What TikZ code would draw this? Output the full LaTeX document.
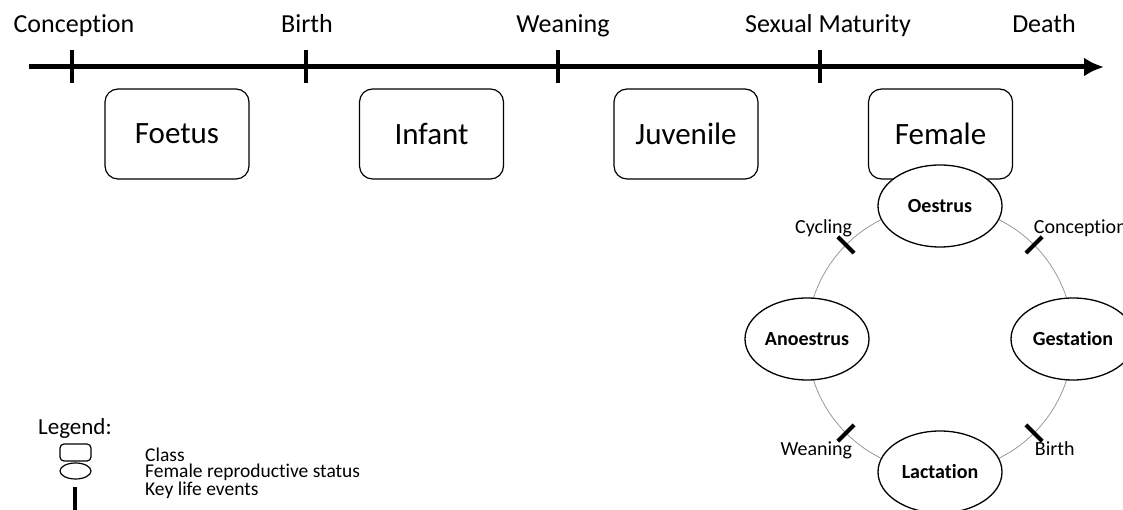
\documentclass[tikz,border=0pt]{standalone}
\usepackage{fontspec}
\setmainfont{Carlito}[Ligatures=NoCommon]
\usetikzlibrary{calc,arrows.meta,shapes.geometric}
\tikzset{%
  >=latex, % arrows
  x=1pt,y=1pt,%
  inner sep=0pt,%
  class/.style={draw,rounded corners=13pt,minimum width=144pt,
    minimum height=90pt,line width=1.2pt,font=\fontsize{31}{37}\selectfont},%
  status/.style={draw,ellipse,fill=white,minimum width=124pt,
    minimum height=82pt,line width=1.3pt,font=\bfseries\fontsize{20}{24}\selectfont},%
  life event/.style={line width=4pt},%
  event label/.style={anchor=base,font=\fontsize{26}{31}\selectfont},%
  cycle label/.style={font=\fontsize{20}{24}\selectfont},%
  key label/.style={anchor=west,font=\fontsize{19.5}{23}\selectfont}%
}

\begin{document}
\begin{tikzpicture} % LIFE CYCLE

\clip (0,0) rectangle (1123,510);
\def\R{133}

% time line
\coordinate (start) at (29,443);
\coordinate (end) at (1104,443);
\draw[line width=5pt,-{Latex[length=20pt,width=19pt]}] (start) -- (end);
\foreach \x/\n in {72/conc,306/birth,558/wean,820/mat}{
  \coordinate (\n) at (\x,443);
  \draw[life event] ($(\n)+(0,16.5)$) -- ($(\n)+(0,-16.5)$);
}
\node[event label] (lconc) at (74,477) {Conception};
\node[event label] (lbirth) at (307,477) {Birth};
\node[event label] (lwean) at (563,477) {Weaning};
\node[event label] (lmat) at (828,477) {Sexual Maturity};
\node[event label] (ldeath) at (1044,477) {Death};

% classes
\node[class] (foetus) at (177,376) {Foetus};
\node[class] (infant) at (431.5,376) {Infant};
\node[class] (juvenile) at (686,376) {Juvenile};
\node[class] (female) at (940.5,376) {Female};

% reproductive cycle
\coordinate (C) at (940,171);
\draw[gray!80,line width=0.8pt] (C) circle (\R);
\foreach \a in {45,135,225,315}{
  \draw[life event] ($(C)+(\a:{\R-11.5})$) -- ($(C)+(\a:{\R+11.5})$)
    coordinate (t\a);
}
\node[status] (oestrus) at ($(C)+(90:\R)$) {Oestrus};
\node[status] (gestation) at ($(C)+(0:\R)$) {Gestation};
\node[status] (lactation) at ($(C)+(270:\R)$) {Lactation};
\node[status] (anoestrus) at ($(C)+(180:\R)$) {Anoestrus};
\node[cycle label,anchor=south east] (lcycling) at ($(t135)+(14.5,0)$) {Cycling};
\node[cycle label,anchor=south west] (lconception) at ($(t45)+(-8.5,0)$) {Conception};
\node[cycle label,anchor=north east] (lweaning) at ($(t225)+(14.5,0)$) {Weaning};
\node[cycle label,anchor=north west] (lbirthc) at ($(t315)+(-7.5,0)$) {Birth};

% legend
\node[anchor=west,font=\fontsize{23}{28}\selectfont] (legend) at (38,82) {Legend:};
\node[draw,rounded corners=4pt,minimum width=31pt,minimum height=17pt,
  line width=1.2pt] (keyclass) at (75.5,57.5) {};
\node[draw,ellipse,minimum width=31pt,minimum height=16pt,
  line width=1.2pt] (keystatus) at (75.5,39) {};
\coordinate (keytop) at (75,23);
\coordinate (keybot) at (75,0);
\draw[life event] (keytop) -- (keybot);
\node[key label] (txtclass) at (145,55) {Class};
\node[key label] (txtstatus) at (145,38) {Female reproductive status};
\node[key label] (txtevent) at (145,20) {Key life events};

\end{tikzpicture}
\end{document}
